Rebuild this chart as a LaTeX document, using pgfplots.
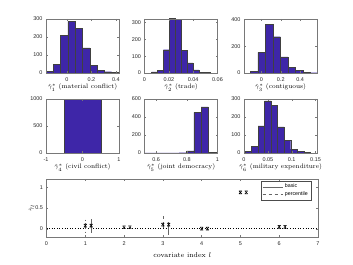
\documentclass[border=0pt]{standalone}
\usepackage{fontspec}
\setsansfont{Liberation Sans}
\usepackage{pgfplots}
\pgfplotsset{compat=1.18}
\definecolor{barblue}{RGB}{62,38,168}
\definecolor{axgray}{RGB}{120,120,120}

\pgfdeclareplotmark{hourglass}{%
 \pgfpathmoveto{\pgfqpoint{-\pgfplotmarksize}{\pgfplotmarksize}}%
 \pgfpathlineto{\pgfqpoint{\pgfplotmarksize}{-\pgfplotmarksize}}%
 \pgfpathmoveto{\pgfqpoint{-\pgfplotmarksize}{-\pgfplotmarksize}}%
 \pgfpathlineto{\pgfqpoint{\pgfplotmarksize}{\pgfplotmarksize}}%
 \pgfpathmoveto{\pgfqpoint{-\pgfplotmarksize}{\pgfplotmarksize}}%
 \pgfpathlineto{\pgfqpoint{\pgfplotmarksize}{\pgfplotmarksize}}%
 \pgfpathmoveto{\pgfqpoint{-\pgfplotmarksize}{-\pgfplotmarksize}}%
 \pgfpathlineto{\pgfqpoint{\pgfplotmarksize}{-\pgfplotmarksize}}%
 \pgfusepathqstroke}

\pgfplotsset{
 common/.style={
  scale only axis, anchor=south west,
  axis line style={axgray, line width=0.4pt},
  tick style={axgray, line width=0.35pt}, tick align=inside, major tick length=1.8bp,
  ticklabel style={font=\sffamily\fontsize{5.5}{6}\selectfont, text=black!85},
  xticklabel style={yshift=-1bp},
  /pgf/number format/assume math mode=true,
  /pgf/number format/1000 sep={},
  scaled ticks=false,
  axis on top,
 },
 hist/.style={common, width=73bp, height=54bp, ymin=0,
  xlabel style={font=\fontsize{6.5}{7}\selectfont, at={(axis description cs:0.5,0)}, anchor=center, yshift=-14.5bp},
 },
 histbar/.style={ybar interval, fill=barblue, draw=black!75, line width=0.4pt},
}

\begin{document}
\begin{tikzpicture}
\useasboundingbox (0,0) rectangle (353bp,265bp);

% Row 1
\begin{axis}[hist, at={(46bp,192bp)}, xmin=-0.17, xmax=0.425, ymax=300,
  xtick={0,0.2,0.4}, ytick={0,100,200,300},
  xlabel={$\hat{\gamma}^*_1$ (material conflict)}]
\addplot[histbar] coordinates {(-0.17,8) (-0.1105,47) (-0.051,208) (0.0085,287) (0.068,247) (0.1275,139) (0.187,42) (0.2465,13) (0.306,7) (0.3655,2) (0.425,0)};
\end{axis}

\begin{axis}[hist, at={(144.5bp,192bp)}, xmin=0, xmax=0.06, ymax=320,
  xtick={0,0.02,0.04,0.06}, ytick={0,100,200,300},
  xticklabels={0,0.02,0.04,0.06},
  xlabel={$\hat{\gamma}^*_2$ (trade)}]
\addplot[histbar] coordinates {(0.0058,6) (0.01065,14) (0.0155,138) (0.02035,322) (0.0252,318) (0.03005,136) (0.0349,60) (0.03975,18) (0.0446,5) (0.04945,3) (0.0543,0)};
\end{axis}

\begin{axis}[hist, at={(244bp,192bp)}, xmin=-0.18, xmax=0.575, ymax=405,
  xtick={0,0.2,0.4}, ytick={0,200,400},
  xlabel={$\hat{\gamma}^*_3$ (contiguous)}]
\addplot[histbar] coordinates {(-0.115,14) (-0.037,154) (0.041,367) (0.119,272) (0.197,121) (0.275,44) (0.353,20) (0.431,5) (0.509,2) (0.587,1) (0.665,0)};
\end{axis}

% Row 2
\begin{axis}[hist, at={(46bp,112bp)}, xmin=-1, xmax=1, ymax=1000,
  xtick={-1,0,1}, ytick={0,500,1000},
  xlabel={$\hat{\gamma}^*_4$ (civil conflict)}]
\addplot[histbar] coordinates {(-0.5,1000) (0.5,0)};
\end{axis}

\begin{axis}[hist, at={(144.5bp,112bp)}, xmin=0.524, xmax=1, ymax=600,
  xtick={0.6,0.8,1}, ytick={0,200,400,600},
  xlabel={$\hat{\gamma}^*_5$ (joint democracy)}]
\addplot[histbar] coordinates {(0.512,1) (0.5597,0) (0.6074,0) (0.6551,0) (0.7028,0) (0.7505,3) (0.7982,24) (0.8459,452) (0.8936,512) (0.9413,8) (0.989,0)};
\end{axis}

\begin{axis}[hist, at={(244bp,112bp)}, xmin=0, xmax=0.153, ymax=300,
  xtick={0,0.05,0.1,0.15}, ytick={0,100,200,300},
  xticklabels={0,0.05,0.1,0.15},
  xlabel={$\hat{\gamma}^*_6$ (military expenditure)}]
\addplot[histbar] coordinates {(0.002,9) (0.0157,37) (0.0294,151) (0.0431,290) (0.0568,265) (0.0705,145) (0.0842,71) (0.0979,22) (0.1116,8) (0.1253,2) (0.139,0)};
\end{axis}

% Bottom
\begin{axis}[common, width=271.5bp, height=58bp, at={(46.5bp,28bp)},
  xmin=0, xmax=7, ymin=-0.2, ymax=1.2,
  xtick={0,1,2,3,4,5,6,7}, ytick={0,0.5,1},
  xlabel={covariate index $l$},
  ylabel={$\hat{\gamma}_l$},
  xlabel style={font=\fontsize{7}{8}\selectfont, at={(axis description cs:0.5,0)}, anchor=center, yshift=-18bp},
  ylabel style={font=\fontsize{6.5}{7}\selectfont, at={(axis description cs:0,0.5)}, anchor=center, rotate=0, yshift=15bp},
  legend style={at={(0.974,0.966)}, anchor=north east, font=\sffamily\fontsize{5.3}{6}\selectfont,
    draw=black!70, line width=0.3pt, inner sep=1pt, row sep=-1.5pt},
  legend cell align=left,
  legend image code/.code={\draw[#1] (0bp,0bp) -- (20bp,0bp);},
]
\addplot[black, dotted, line width=0.6pt, forget plot] coordinates {(0,0) (7,0)};
\addlegendimage{black!60, solid, line width=0.4pt}
\addlegendentry{basic}
\addlegendimage{black!60, dashed, line width=0.4pt}
\addlegendentry{percentile}
% percentile (dashed) at l
\addplot[only marks, black, mark=hourglass, mark size=1.5bp, line width=0.45pt, forget plot,
  error bars/.cd, y dir=both, y explicit, error mark=none,
  error bar style={black!60, dashed, line width=0.4pt}]
 coordinates {
 (1,0.074) += (0,0.146) -= (0,0.15)
 (2,0.035) += (0,0.01) -= (0,0.01)
 (3,0.10) += (0,0.24) -= (0,0.08)
 (4,0.0) += (0,0.005) -= (0,0.005)
 (5,0.877) += (0,0.02) -= (0,0.02)
 (6,0.045) += (0,0.01) -= (0,0.01)
 };
% basic (solid) at l+0.15
\addplot[only marks, black, mark=hourglass, mark size=1.5bp, line width=0.45pt, forget plot,
  error bars/.cd, y dir=both, y explicit, error mark=none,
  error bar style={black!60, solid, line width=0.4pt}]
 coordinates {
 (1.15,0.074) += (0,0.166) -= (0,0.17)
 (2.15,0.035) += (0,0.01) -= (0,0.01)
 (3.15,0.10) += (0,0.06) -= (0,0.25)
 (4.15,0.0) += (0,0.005) -= (0,0.005)
 (5.15,0.877) += (0,0.02) -= (0,0.02)
 (6.15,0.045) += (0,0.01) -= (0,0.01)
 };
\end{axis}
\end{tikzpicture}
\end{document}
